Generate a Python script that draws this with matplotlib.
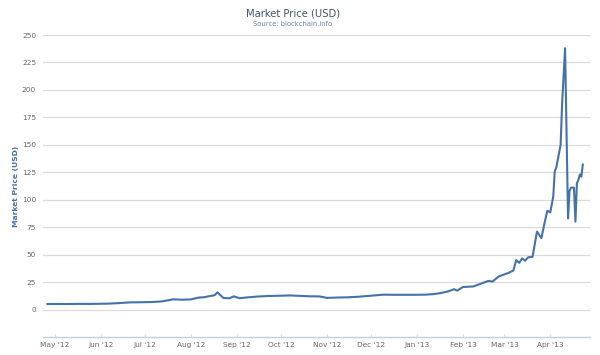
import matplotlib
matplotlib.use("Agg")
import matplotlib.pyplot as plt
import numpy as np

# market price readings (USD)
dates = [
    "2012-04-26", "2012-05-03", "2012-05-10", "2012-05-17", "2012-05-24",
    "2012-05-31", "2012-06-07", "2012-06-14", "2012-06-21", "2012-06-28",
    "2012-07-05", "2012-07-12", "2012-07-17", "2012-07-20", "2012-07-26",
    "2012-08-01", "2012-08-06", "2012-08-10", "2012-08-14", "2012-08-17",
    "2012-08-19", "2012-08-21", "2012-08-23", "2012-08-27", "2012-08-30",
    "2012-09-03", "2012-09-08", "2012-09-15", "2012-09-22", "2012-09-29",
    "2012-10-07", "2012-10-14", "2012-10-21", "2012-10-27", "2012-11-01",
    "2012-11-08", "2012-11-15", "2012-11-22", "2012-11-30", "2012-12-09",
    "2012-12-16", "2012-12-23", "2012-12-30", "2013-01-06", "2013-01-12",
    "2013-01-17", "2013-01-22", "2013-01-26", "2013-01-28", "2013-02-01",
    "2013-02-08", "2013-02-13", "2013-02-18", "2013-02-21", "2013-02-25",
    "2013-03-01", "2013-03-04", "2013-03-07", "2013-03-09", "2013-03-11",
    "2013-03-13", "2013-03-15", "2013-03-17", "2013-03-20", "2013-03-23",
    "2013-03-26", "2013-03-28", "2013-03-30", "2013-04-01", "2013-04-03",
    "2013-04-04", "2013-04-05", "2013-04-08", "2013-04-09", "2013-04-11",
    "2013-04-13", "2013-04-14", "2013-04-15", "2013-04-17", "2013-04-18",
    "2013-04-19", "2013-04-20", "2013-04-21", "2013-04-22", "2013-04-23",
]
prices = [
    5.0, 5.0, 5.0, 5.1, 5.1,
    5.2, 5.4, 5.9, 6.5, 6.6,
    6.8, 7.3, 8.5, 9.3, 8.9,
    9.2, 10.8, 11.2, 12.3, 13.0,
    15.6, 13.0, 10.5, 10.2, 12.0,
    10.3, 11.0, 11.8, 12.3, 12.5,
    12.8, 12.4, 12.0, 11.9, 10.6,
    10.9, 11.1, 11.6, 12.5, 13.5,
    13.4, 13.4, 13.4, 13.5, 14.0,
    15.0, 16.5, 18.5, 17.2, 20.5,
    21.0, 23.5, 26.0, 25.5, 30.0,
    32.0, 33.5, 35.5, 45.0, 42.5,
    46.5, 44.5, 47.5, 48.0, 71.0,
    65.0, 78.0, 90.0, 88.5, 103.0,
    126.0, 129.0, 150.0, 188.0, 238.0,
    83.0, 108.0, 111.0, 111.0, 80.0,
    115.0, 118.0, 123.0, 121.0, 132.0,
]

month_ticks = [
    "2012-05-01", "2012-06-01", "2012-07-01", "2012-08-01", "2012-09-01",
    "2012-10-01", "2012-11-01", "2012-12-01", "2013-01-01", "2013-02-01",
    "2013-03-01", "2013-04-01",
]
month_labels = [
    "May '12", "Jun '12", "Jul '12", "Aug '12", "Sep '12", "Oct '12",
    "Nov '12", "Dec '12", "Jan '13", "Feb '13", "Mar '13", "Apr '13",
]
y_ticks = [0, 25, 50, 75, 100, 125, 150, 175, 200, 225, 250]

x = np.array(dates, dtype="datetime64[D]")
xt = np.array(month_ticks, dtype="datetime64[D]")

plt.rcParams['font.family'] = ['DejaVu Sans']

fig = plt.figure(figsize=(6, 3.55), dpi=100)
ax = fig.add_axes([0.0717, 0.0493, 0.912, 0.852])

ax.plot(x, prices, color='#4572A7', linewidth=1.5, solid_joinstyle='round')

ax.set_xlim(np.datetime64("2012-04-23"), np.datetime64("2013-04-28"))
ax.set_ylim(-25.5, 250)

ax.set_yticks(y_ticks)
ax.set_yticklabels([str(v) for v in y_ticks])
ax.set_xticks(xt)
ax.set_xticklabels(month_labels)

ax.grid(axis='y', color='#DADADA', linewidth=0.9)
ax.set_axisbelow(True)

for side in ['left', 'right', 'top']:
    ax.spines[side].set_visible(False)
ax.spines['bottom'].set_color('#C0D0E0')
ax.spines['bottom'].set_linewidth(1.0)

ax.tick_params(axis='y', length=0, pad=5, labelsize=5.3, labelcolor='#666666')
ax.tick_params(axis='x', direction='in', length=2, width=0.6,
               color='#D0DCE8', pad=3, labelsize=5.3, labelcolor='#666666')

ax.set_ylabel('Market Price (USD)', color='#4572A7', fontsize=5.4,
              fontweight='bold', labelpad=2)

fig.text(0.488, 0.963, 'Market Price (USD)', ha='center', va='center',
         fontsize=7.2, color='#3E576F')
fig.text(0.488, 0.932, 'Source: blockchain.info', ha='center', va='center',
         fontsize=4.9, color='#6D869F')

fig.savefig('out.png', dpi=100)
plt.close(fig)
